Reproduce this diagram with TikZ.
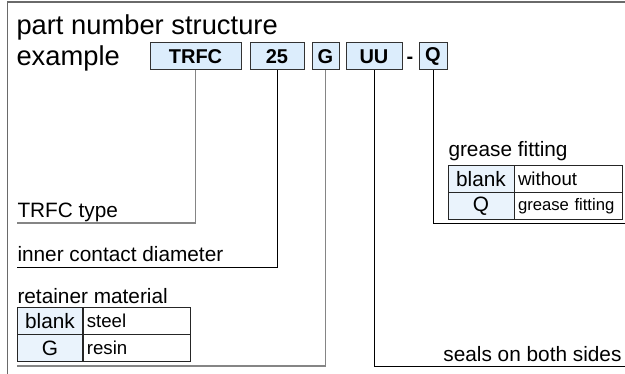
\documentclass[tikz,border=0pt]{standalone}
\usepackage{fontspec}
\setmainfont{Liberation Sans}
\definecolor{boxblue}{HTML}{DCEDFC}
\definecolor{cellblue}{HTML}{EAF3FC}
\definecolor{framegray}{HTML}{6A6A6A}
\definecolor{linegray}{HTML}{858585}
\tikzset{every picture/.style={line width=0.75pt}}
\tikzset{
	partbox/.style={draw=black!80, fill=boxblue, inner sep=0pt, minimum height=20.25pt, font=\fontsize{15}{18}\selectfont\bfseries},
	titletext/.style={inner sep=0pt, font=\fontsize{20.5}{24}\selectfont},
	labeltext/.style={inner sep=0pt, font=\fontsize{15.6}{18}\selectfont},
	keycell/.style={draw=black!85, fill=cellblue, inner sep=0pt, minimum width=49.5pt, minimum height=20.6pt, font=\fontsize{15.6}{18}\selectfont},
	valcell/.style={draw=black!85, inner xsep=3pt, inner ysep=0pt, text width=74.5pt, minimum height=20.6pt, align=left, font=\fontsize{14}{16}\selectfont},
	grayline/.style={draw=linegray, line width=1.1pt},
	blackline/.style={draw=black, line width=0.75pt}
}
\begin{document}
\begin{tikzpicture}[x=0.75pt,y=0.75pt,yscale=-1,xscale=1]
	\useasboundingbox (0,0) rectangle (625,374);

	% Frame
	\draw [framegray, line width=1.1pt] (7.5,374) -- (7.5,2) -- (625,2) ;

	% Heading
	\node [titletext, anchor=base west] (title) at (16,35) {part number structure};
	\node [titletext, anchor=base west] (example) at (16,66) {example};

	% Part number boxes
	\node [partbox, minimum width=68.25pt] (trfc) at (195.5,56.5) {TRFC};
	\node [partbox, minimum width=40.5pt] (size) at (277,56.5) {25};
	\node [partbox, minimum width=20.25pt] (retainer) at (325.5,56.5) {G};
	\node [partbox, minimum width=42pt] (seals) at (374,56.5) {UU};
	\node [inner sep=0pt, anchor=base, font=\fontsize{15}{18}\selectfont\bfseries] (dash) at (410,63.5) {-};
	\node [partbox, minimum width=21pt] (grease) at (433,56.5) {Q};

	% Connectors
	\coordinate (typeend) at (17,223);
	\coordinate (sizeend) at (17,267);
	\coordinate (retainerend) at (17,366);
	\coordinate (sealsend) at (625,366);
	\coordinate (greaseend) at (625,224);
	\draw [grayline] (trfc.south) |- (typeend);
	\draw [blackline] (size.south) |- (sizeend);
	\draw [grayline] (retainer.south) |- (retainerend);
	\draw [blackline] (seals.south) |- (sealsend);
	\draw [blackline] (grease.south) |- (greaseend);

	% Labels
	\node [labeltext, anchor=base west] (typelabel) at (17,218) {TRFC type};
	\node [labeltext, anchor=base west] (sizelabel) at (17,262) {inner contact diameter};
	\node [labeltext, anchor=base west] (retainerlabel) at (17,303) {retainer material};
	\node [labeltext, anchor=base east] (sealslabel) at (622,361) {seals on both sides};
	\node [labeltext, anchor=base west] (greaselabel) at (448,157) {grease fitting};

	% Table: retainer material
	\node [keycell] (rblank) at (50,320.75) {blank};
	\node [keycell] (rkey) at (50,348.25) {G};
	\node [valcell] (rsteel) at (136.5,320.75) {steel};
	\node [valcell] (rresin) at (136.5,348.25) {resin};

	% Table: grease fitting
	\node [keycell] (gblank) at (481,178.75) {blank};
	\node [keycell] (gkey) at (481,206.25) {Q};
	\node [valcell, text width=75pt] (gwithout) at (568,178.75) {without};
	\node [valcell, text width=75pt, font=\fontsize{12.5}{15}\selectfont] (gwith) at (568,206.25) {grease fitting};

\end{tikzpicture}
\end{document}
